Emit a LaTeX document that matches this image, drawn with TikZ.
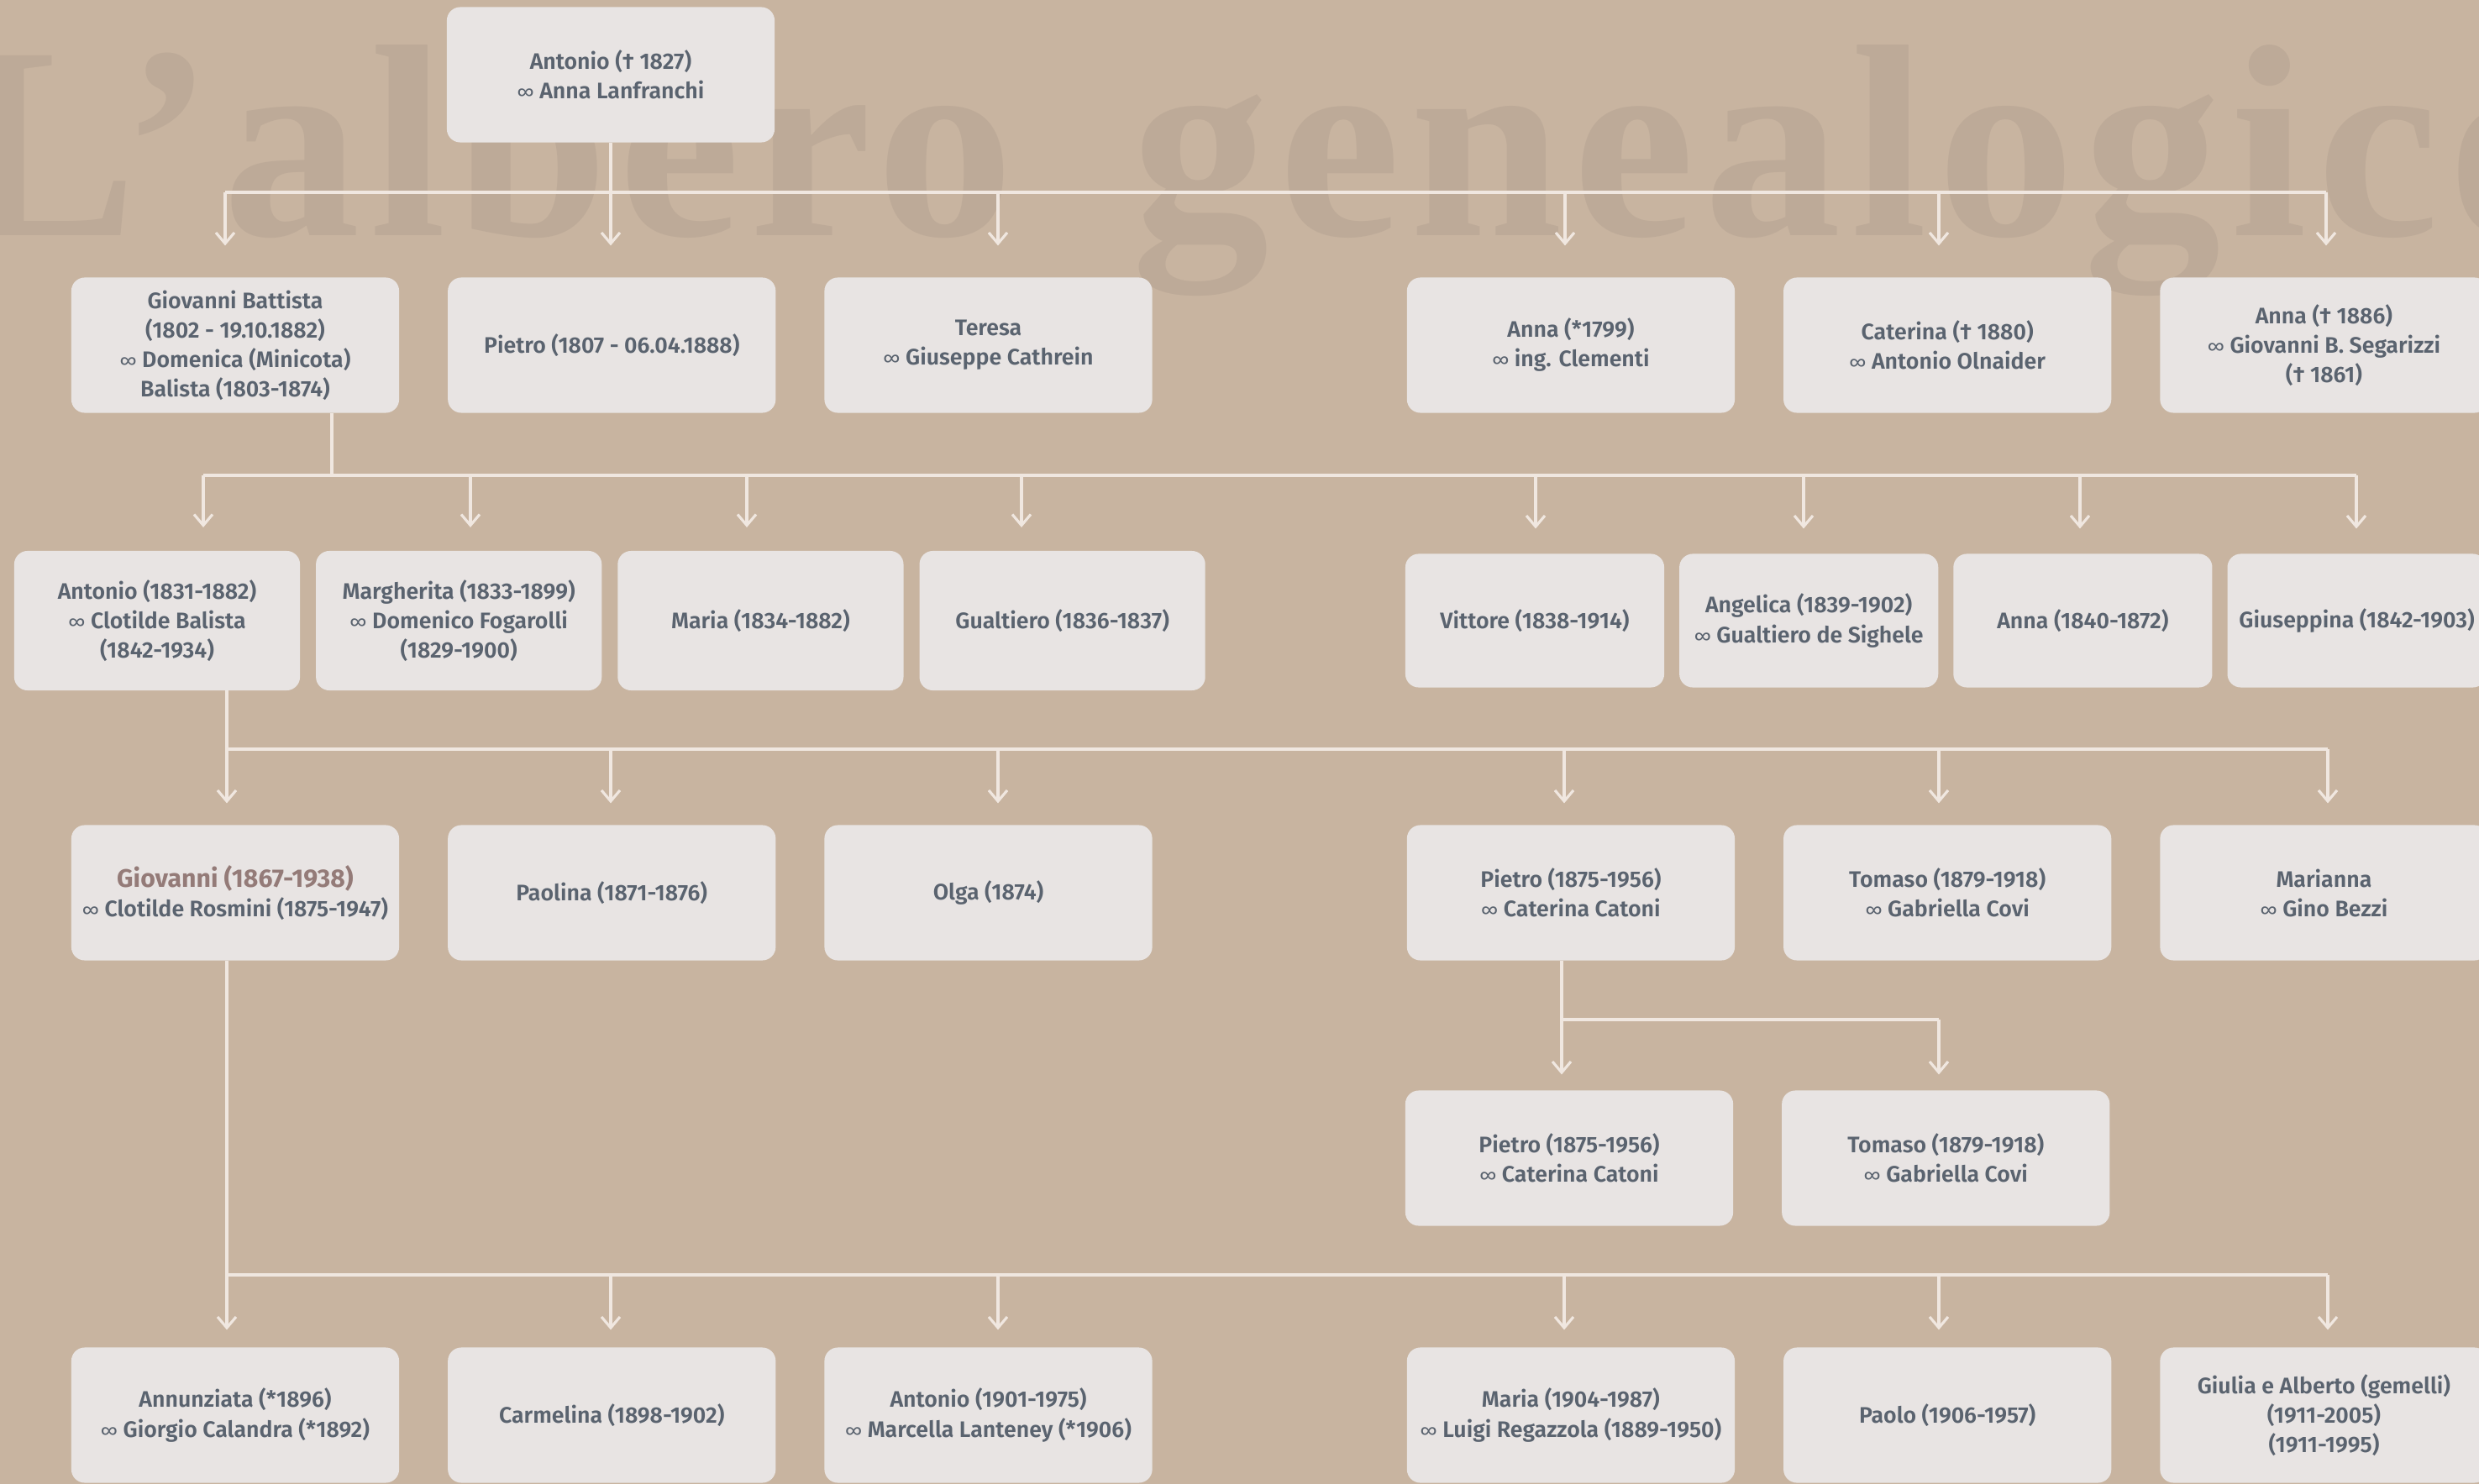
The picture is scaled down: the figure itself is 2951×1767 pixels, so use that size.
\documentclass[tikz,border=0pt]{standalone}
\usepackage{fontspec}
\setmainfont{Fira Sans}[UprightFont=* SemiBold, BoldFont=* Bold]
\newfontfamily\titlefont{Liberation Serif}[LetterSpace=3.5]
\newfontfamily\thinfont{Fira Sans}
\newcommand{\wed}{{\thinfont\fontsize{6.4}{9.96}\selectfont ∞}}
\usepackage{tikz}
\usetikzlibrary{arrows.meta,positioning}
\definecolor{paper}{RGB}{200,180,160}
\definecolor{ghost}{RGB}{189,170,152}
\definecolor{boxfill}{RGB}{232,228,227}
\definecolor{ink}{RGB}{90,99,111}
\definecolor{rose}{RGB}{148,123,120}
\definecolor{wire}{RGB}{240,231,224}
\tikzset{
  >={Straight Barb[length=1.3mm,width=2.2mm]},
  every node/.append style={font=\fontsize{7.6}{9.96}\selectfont},
}

\begin{document}
\begin{tikzpicture}[
    x=0.01cm, y=-0.01cm,
    block/.style={rectangle, draw=none, fill=boxfill, rounded corners=1.6mm, minimum width=3.9cm, minimum height=1.61cm, align=center, inner sep=2pt, outer sep=0pt, text=ink},
    wide/.style={block, minimum width=3.4cm, minimum height=1.66cm},
    slim/.style={block, minimum width=3.08cm, minimum height=1.59cm},
    link/.style={draw=wire, line width=0.9pt},
    arrow/.style={link, ->}
]
\useasboundingbox (0,0) rectangle (2951,1767);
\clip (0,0) rectangle (2951,1767);
\fill[paper] (0,0) rectangle (2951,1767);
\node[anchor=base west, inner sep=0pt, text=ghost, font=\titlefont\bfseries\fontsize{93}{93}\selectfont] (title) at (-55,281) {L’albero\hspace{1.4cm}genealogico};

% generation 0 and 1
\node[block] (antonio) at (727,89) {Antonio († 1827)\\\wed{} Anna Lanfranchi};
\node[block] (gbattista) at (280,411) {Giovanni Battista\\(1802 - 19.10.1882)\\\wed{} Domenica (Minicota)\\Balista (1803-1874)};
\node[block, right=0.58cm of gbattista] (pietro) {Pietro (1807 - 06.04.1888)};
\node[block, right=0.58cm of pietro] (teresa) {Teresa\\\wed{} Giuseppe Cathrein};
\node[block, right=3.03cm of teresa] (anna) {Anna (*1799)\\\wed{} ing. Clementi};
\node[block, right=0.58cm of anna] (caterina) {Caterina († 1880)\\\wed{} Antonio Olnaider};
\node[block, right=0.58cm of caterina] (annab) {Anna († 1886)\\\wed{} Giovanni B. Segarizzi\\(† 1861)};

% generation 2
\node[wide] (antonioc) at (187,739) {Antonio (1831-1882)\\\wed{} Clotilde Balista\\(1842-1934)};
\node[wide, right=0.19cm of antonioc] (margherita) {Margherita (1833-1899)\\\wed{} Domenico Fogarolli\\(1829-1900)};
\node[wide, right=0.19cm of margherita] (maria) {Maria (1834-1882)};
\node[wide, right=0.19cm of maria] (gualtiero) {Gualtiero (1836-1837)};
\node[slim] (vittore) at (1827,739) {Vittore (1838-1914)};
\node[slim, right=0.18cm of vittore] (angelica) {Angelica (1839-1902)\\\wed{} Gualtiero de Sighele};
\node[slim, right=0.18cm of angelica] (annac) {Anna (1840-1872)};
\node[slim, right=0.18cm of annac] (giuseppina) {Giuseppina (1842-1903)};

% generation 3
\node[block] (giovanni) at (280,1063) {{\color{rose}\bfseries\fontsize{8.6}{9.96}\selectfont Giovanni (1867-1938)}\\\wed{} Clotilde Rosmini (1875-1947)};
\node[block, right=0.58cm of giovanni] (paolina) {Paolina (1871-1876)};
\node[block, right=0.58cm of paolina] (olga) {Olga (1874)};
\node[block, right=3.03cm of olga] (pietroc) {Pietro (1875-1956)\\\wed{} Caterina Catoni};
\node[block, right=0.58cm of pietroc] (tomaso) {Tomaso (1879-1918)\\\wed{} Gabriella Covi};
\node[block, right=0.58cm of tomaso] (marianna) {Marianna\\\wed{} Gino Bezzi};

\node[block] (pietrod) at (1868,1379) {Pietro (1875-1956)\\\wed{} Caterina Catoni};
\node[block, right=0.58cm of pietrod] (tomasod) {Tomaso (1879-1918)\\\wed{} Gabriella Covi};

% generation 4
\node[block] (annunziata) at (280,1685) {Annunziata (*1896)\\\wed{} Giorgio Calandra (*1892)};
\node[block, right=0.58cm of annunziata] (carmelina) {Carmelina (1898-1902)};
\node[block, right=0.58cm of carmelina] (antoniod) {Antonio (1901-1975)\\\wed{} Marcella Lanteney (*1906)};
\node[block, right=3.03cm of antoniod] (mariad) {Maria (1904-1987)\\\wed{} Luigi Regazzola (1889-1950)};
\node[block, right=0.58cm of mariad] (paolo) {Paolo (1906-1957)};
\node[block, right=0.58cm of paolo] (giulia) {Giulia e Alberto (gemelli)\\(1911-2005)\\(1911-1995)};

% lines from antonio
\coordinate (a1) at (268,229);
\coordinate (a2) at (727,229);
\coordinate (a3) at (1188,229);
\coordinate (a4) at (1863,229);
\coordinate (a5) at (2308,229);
\coordinate (a6) at (2769,229);
\draw[link] (antonio) -- (a2);
\draw[link] (a1) -- (a6);
\draw[arrow, shorten >=3.8mm] (a1) -- (a1 |- gbattista.north);
\draw[arrow, shorten >=3.8mm] (a2) -- (a2 |- pietro.north);
\draw[arrow, shorten >=3.8mm] (a3) -- (a3 |- teresa.north);
\draw[arrow, shorten >=3.8mm] (a4) -- (a4 |- anna.north);
\draw[arrow, shorten >=3.8mm] (a5) -- (a5 |- caterina.north);
\draw[arrow, shorten >=3.8mm] (a6) -- (a6 |- annab.north);

% lines from giovanni battista
\coordinate (b0) at (395,566);
\coordinate (b1) at (242,566);
\coordinate (b2) at (560,566);
\coordinate (b3) at (889,566);
\coordinate (b4) at (1216,566);
\coordinate (b5) at (1828,566);
\coordinate (b6) at (2147,566);
\coordinate (b7) at (2476,566);
\coordinate (b8) at (2805,566);
\draw[link] (b0 |- gbattista.south) -- (b0);
\draw[link] (b1) -- (b8);
\draw[arrow, shorten >=2.8mm] (b1) -- (b1 |- antonioc.north);
\draw[arrow, shorten >=2.8mm] (b2) -- (b2 |- margherita.north);
\draw[arrow, shorten >=2.8mm] (b3) -- (b3 |- maria.north);
\draw[arrow, shorten >=2.8mm] (b4) -- (b4 |- gualtiero.north);
\draw[arrow, shorten >=3mm] (b5) -- (b5 |- vittore.north);
\draw[arrow, shorten >=3mm] (b6) -- (b6 |- angelica.north);
\draw[arrow, shorten >=3mm] (b7) -- (b7 |- annac.north);
\draw[arrow, shorten >=3mm] (b8) -- (b8 |- giuseppina.north);

% lines from antonio (1831)
\coordinate (c1) at (270,892);
\coordinate (c2) at (727,892);
\coordinate (c3) at (1188,892);
\coordinate (c4) at (1862,892);
\coordinate (c5) at (2308,892);
\coordinate (c6) at (2771,892);
\draw[link] (c1 |- antonioc.south) -- (c1) -- (c6);
\draw[arrow, shorten >=2.6mm] (c1) -- (c1 |- giovanni.north);
\draw[arrow, shorten >=2.6mm] (c2) -- (c2 |- paolina.north);
\draw[arrow, shorten >=2.6mm] (c3) -- (c3 |- olga.north);
\draw[arrow, shorten >=2.6mm] (c4) -- (c4 |- pietroc.north);
\draw[arrow, shorten >=2.6mm] (c5) -- (c5 |- tomaso.north);
\draw[arrow, shorten >=2.6mm] (c6) -- (c6 |- marianna.north);

% lines from pietro (1875)
\coordinate (p1) at (1859,1214);
\coordinate (p2) at (2308,1214);
\draw[link] (p1 |- pietroc.south) -- (p1) -- (p2);
\draw[arrow, shorten >=1.9mm] (p1) -- (p1 |- pietrod.north);
\draw[arrow, shorten >=1.9mm] (p2) -- (p2 |- tomasod.north);

% lines from giovanni (1867)
\coordinate (e1) at (270,1518);
\coordinate (e2) at (727,1518);
\coordinate (e3) at (1188,1518);
\coordinate (e4) at (1862,1518);
\coordinate (e5) at (2308,1518);
\coordinate (e6) at (2771,1518);
\draw[link] (e1 |- giovanni.south) -- (e1) -- (e6);
\draw[arrow, shorten >=2.1mm] (e1) -- (e1 |- annunziata.north);
\draw[arrow, shorten >=2.1mm] (e2) -- (e2 |- carmelina.north);
\draw[arrow, shorten >=2.1mm] (e3) -- (e3 |- antoniod.north);
\draw[arrow, shorten >=2.1mm] (e4) -- (e4 |- mariad.north);
\draw[arrow, shorten >=2.1mm] (e5) -- (e5 |- paolo.north);
\draw[arrow, shorten >=2.1mm] (e6) -- (e6 |- giulia.north);
\end{tikzpicture}
\end{document}
